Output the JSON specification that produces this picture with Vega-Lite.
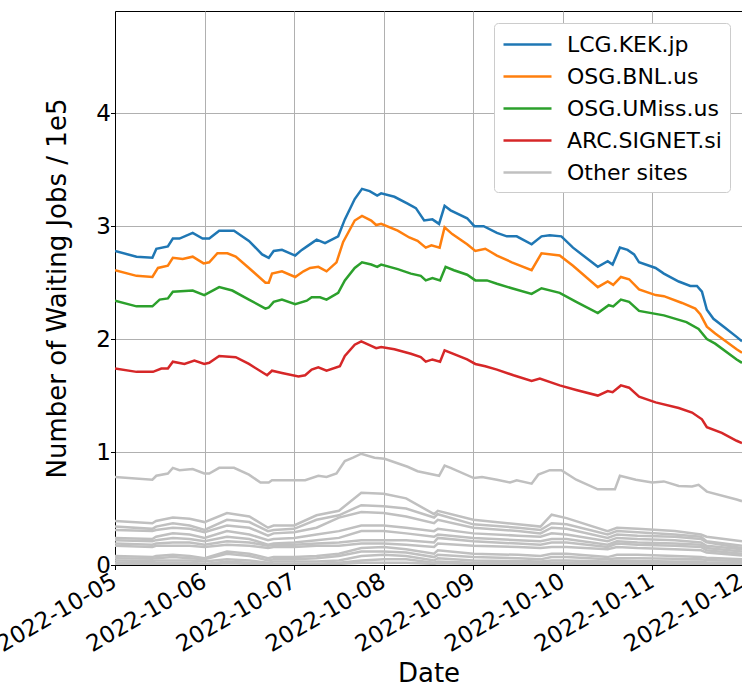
{
"$schema": "https://vega.github.io/schema/vega-lite/v6.json",
"width": 627, "height": 554,
"autosize": {"type": "none"},
"padding": {"left": 115, "top": 11, "right": 0, "bottom": 121},
"background": "white",
"config": {
  "font": "DejaVu Sans",
  "view": {"stroke": "black", "strokeWidth": 1},
  "axis": {"labelFont": "DejaVu Sans", "titleFont": "DejaVu Sans", "labelColor": "black", "titleColor": "black", "domainColor": "black", "tickColor": "black", "gridColor": "#b0b0b0", "gridWidth": 1, "labelFontSize": 23, "titleFontSize": 26, "titleFontWeight": "normal", "tickSize": 4.5, "domainWidth": 1, "labelFlush": false, "labelOverlap": false}
},
"datasets": {
"main": [
{"date":"2022-10-05T00:00","jobs":2.78,"site":"LCG.KEK.jp"},{"date":"2022-10-05T05:46","jobs":2.73,"site":"LCG.KEK.jp"},{"date":"2022-10-05T10:01","jobs":2.72,"site":"LCG.KEK.jp"},{"date":"2022-10-05T11:05","jobs":2.80,"site":"LCG.KEK.jp"},{"date":"2022-10-05T14:10","jobs":2.82,"site":"LCG.KEK.jp"},{"date":"2022-10-05T15:30","jobs":2.89,"site":"LCG.KEK.jp"},{"date":"2022-10-05T17:17","jobs":2.89,"site":"LCG.KEK.jp"},{"date":"2022-10-05T20:49","jobs":2.94,"site":"LCG.KEK.jp"},{"date":"2022-10-05T23:28","jobs":2.89,"site":"LCG.KEK.jp"},{"date":"2022-10-06T01:15","jobs":2.89,"site":"LCG.KEK.jp"},{"date":"2022-10-06T03:55","jobs":2.96,"site":"LCG.KEK.jp"},{"date":"2022-10-06T07:53","jobs":2.96,"site":"LCG.KEK.jp"},{"date":"2022-10-06T11:53","jobs":2.87,"site":"LCG.KEK.jp"},{"date":"2022-10-06T15:25","jobs":2.75,"site":"LCG.KEK.jp"},{"date":"2022-10-06T17:12","jobs":2.72,"site":"LCG.KEK.jp"},{"date":"2022-10-06T18:31","jobs":2.78,"site":"LCG.KEK.jp"},{"date":"2022-10-06T20:44","jobs":2.79,"site":"LCG.KEK.jp"},{"date":"2022-10-07T00:17","jobs":2.74,"site":"LCG.KEK.jp"},{"date":"2022-10-07T02:03","jobs":2.79,"site":"LCG.KEK.jp"},{"date":"2022-10-07T03:50","jobs":2.83,"site":"LCG.KEK.jp"},{"date":"2022-10-07T06:02","jobs":2.88,"site":"LCG.KEK.jp"},{"date":"2022-10-07T08:16","jobs":2.85,"site":"LCG.KEK.jp"},{"date":"2022-10-07T11:48","jobs":2.91,"site":"LCG.KEK.jp"},{"date":"2022-10-07T13:35","jobs":3.06,"site":"LCG.KEK.jp"},{"date":"2022-10-07T16:14","jobs":3.24,"site":"LCG.KEK.jp"},{"date":"2022-10-07T18:11","jobs":3.33,"site":"LCG.KEK.jp"},{"date":"2022-10-07T20:14","jobs":3.31,"site":"LCG.KEK.jp"},{"date":"2022-10-07T22:15","jobs":3.27,"site":"LCG.KEK.jp"},{"date":"2022-10-07T23:19","jobs":3.29,"site":"LCG.KEK.jp"},{"date":"2022-10-08T02:52","jobs":3.26,"site":"LCG.KEK.jp"},{"date":"2022-10-08T06:24","jobs":3.20,"site":"LCG.KEK.jp"},{"date":"2022-10-08T08:37","jobs":3.16,"site":"LCG.KEK.jp"},{"date":"2022-10-08T10:50","jobs":3.05,"site":"LCG.KEK.jp"},{"date":"2022-10-08T13:03","jobs":3.06,"site":"LCG.KEK.jp"},{"date":"2022-10-08T14:50","jobs":3.02,"site":"LCG.KEK.jp"},{"date":"2022-10-08T16:19","jobs":3.18,"site":"LCG.KEK.jp"},{"date":"2022-10-08T17:55","jobs":3.14,"site":"LCG.KEK.jp"},{"date":"2022-10-08T22:21","jobs":3.07,"site":"LCG.KEK.jp"},{"date":"2022-10-09T00:17","jobs":3.00,"site":"LCG.KEK.jp"},{"date":"2022-10-09T02:47","jobs":3.00,"site":"LCG.KEK.jp"},{"date":"2022-10-09T06:20","jobs":2.94,"site":"LCG.KEK.jp"},{"date":"2022-10-09T08:59","jobs":2.91,"site":"LCG.KEK.jp"},{"date":"2022-10-09T11:38","jobs":2.91,"site":"LCG.KEK.jp"},{"date":"2022-10-09T15:38","jobs":2.84,"site":"LCG.KEK.jp"},{"date":"2022-10-09T18:17","jobs":2.91,"site":"LCG.KEK.jp"},{"date":"2022-10-09T20:29","jobs":2.92,"site":"LCG.KEK.jp"},{"date":"2022-10-09T23:36","jobs":2.91,"site":"LCG.KEK.jp"},{"date":"2022-10-10T02:43","jobs":2.81,"site":"LCG.KEK.jp"},{"date":"2022-10-10T09:22","jobs":2.64,"site":"LCG.KEK.jp"},{"date":"2022-10-10T12:01","jobs":2.69,"site":"LCG.KEK.jp"},{"date":"2022-10-10T13:20","jobs":2.66,"site":"LCG.KEK.jp"},{"date":"2022-10-10T15:17","jobs":2.81,"site":"LCG.KEK.jp"},{"date":"2022-10-10T17:20","jobs":2.79,"site":"LCG.KEK.jp"},{"date":"2022-10-10T19:05","jobs":2.75,"site":"LCG.KEK.jp"},{"date":"2022-10-10T20:25","jobs":2.68,"site":"LCG.KEK.jp"},{"date":"2022-10-11T00:51","jobs":2.63,"site":"LCG.KEK.jp"},{"date":"2022-10-11T03:04","jobs":2.58,"site":"LCG.KEK.jp"},{"date":"2022-10-11T07:03","jobs":2.51,"site":"LCG.KEK.jp"},{"date":"2022-10-11T10:09","jobs":2.47,"site":"LCG.KEK.jp"},{"date":"2022-10-11T11:56","jobs":2.47,"site":"LCG.KEK.jp"},{"date":"2022-10-11T13:16","jobs":2.42,"site":"LCG.KEK.jp"},{"date":"2022-10-11T14:35","jobs":2.26,"site":"LCG.KEK.jp"},{"date":"2022-10-11T16:21","jobs":2.18,"site":"LCG.KEK.jp"},{"date":"2022-10-11T19:27","jobs":2.10,"site":"LCG.KEK.jp"},{"date":"2022-10-11T22:34","jobs":2.02,"site":"LCG.KEK.jp"},{"date":"2022-10-12T00:00","jobs":1.98,"site":"LCG.KEK.jp"},
{"date":"2022-10-05T00:00","jobs":2.61,"site":"OSG.BNL.us"},{"date":"2022-10-05T05:46","jobs":2.56,"site":"OSG.BNL.us"},{"date":"2022-10-05T10:01","jobs":2.55,"site":"OSG.BNL.us"},{"date":"2022-10-05T11:31","jobs":2.63,"site":"OSG.BNL.us"},{"date":"2022-10-05T14:10","jobs":2.65,"site":"OSG.BNL.us"},{"date":"2022-10-05T15:30","jobs":2.72,"site":"OSG.BNL.us"},{"date":"2022-10-05T18:09","jobs":2.71,"site":"OSG.BNL.us"},{"date":"2022-10-05T20:49","jobs":2.73,"site":"OSG.BNL.us"},{"date":"2022-10-05T23:44","jobs":2.67,"site":"OSG.BNL.us"},{"date":"2022-10-06T01:15","jobs":2.68,"site":"OSG.BNL.us"},{"date":"2022-10-06T03:27","jobs":2.76,"site":"OSG.BNL.us"},{"date":"2022-10-06T06:07","jobs":2.76,"site":"OSG.BNL.us"},{"date":"2022-10-06T08:21","jobs":2.73,"site":"OSG.BNL.us"},{"date":"2022-10-06T11:53","jobs":2.63,"site":"OSG.BNL.us"},{"date":"2022-10-06T16:19","jobs":2.50,"site":"OSG.BNL.us"},{"date":"2022-10-06T17:12","jobs":2.50,"site":"OSG.BNL.us"},{"date":"2022-10-06T18:04","jobs":2.58,"site":"OSG.BNL.us"},{"date":"2022-10-06T20:44","jobs":2.60,"site":"OSG.BNL.us"},{"date":"2022-10-07T00:17","jobs":2.55,"site":"OSG.BNL.us"},{"date":"2022-10-07T02:30","jobs":2.60,"site":"OSG.BNL.us"},{"date":"2022-10-07T04:17","jobs":2.63,"site":"OSG.BNL.us"},{"date":"2022-10-07T06:29","jobs":2.64,"site":"OSG.BNL.us"},{"date":"2022-10-07T08:41","jobs":2.60,"site":"OSG.BNL.us"},{"date":"2022-10-07T11:21","jobs":2.68,"site":"OSG.BNL.us"},{"date":"2022-10-07T13:08","jobs":2.86,"site":"OSG.BNL.us"},{"date":"2022-10-07T16:14","jobs":3.05,"site":"OSG.BNL.us"},{"date":"2022-10-07T18:11","jobs":3.09,"site":"OSG.BNL.us"},{"date":"2022-10-07T20:39","jobs":3.05,"site":"OSG.BNL.us"},{"date":"2022-10-07T21:59","jobs":3.01,"site":"OSG.BNL.us"},{"date":"2022-10-07T23:19","jobs":3.02,"site":"OSG.BNL.us"},{"date":"2022-10-08T03:45","jobs":2.96,"site":"OSG.BNL.us"},{"date":"2022-10-08T06:51","jobs":2.90,"site":"OSG.BNL.us"},{"date":"2022-10-08T09:04","jobs":2.87,"site":"OSG.BNL.us"},{"date":"2022-10-08T11:16","jobs":2.81,"site":"OSG.BNL.us"},{"date":"2022-10-08T12:47","jobs":2.83,"site":"OSG.BNL.us"},{"date":"2022-10-08T14:59","jobs":2.81,"site":"OSG.BNL.us"},{"date":"2022-10-08T16:19","jobs":2.99,"site":"OSG.BNL.us"},{"date":"2022-10-08T18:22","jobs":2.93,"site":"OSG.BNL.us"},{"date":"2022-10-08T22:21","jobs":2.84,"site":"OSG.BNL.us"},{"date":"2022-10-09T00:33","jobs":2.78,"site":"OSG.BNL.us"},{"date":"2022-10-09T03:13","jobs":2.80,"site":"OSG.BNL.us"},{"date":"2022-10-09T06:20","jobs":2.74,"site":"OSG.BNL.us"},{"date":"2022-10-09T10:19","jobs":2.68,"site":"OSG.BNL.us"},{"date":"2022-10-09T15:38","jobs":2.61,"site":"OSG.BNL.us"},{"date":"2022-10-09T18:17","jobs":2.76,"site":"OSG.BNL.us"},{"date":"2022-10-09T23:09","jobs":2.74,"site":"OSG.BNL.us"},{"date":"2022-10-10T02:43","jobs":2.65,"site":"OSG.BNL.us"},{"date":"2022-10-10T09:22","jobs":2.46,"site":"OSG.BNL.us"},{"date":"2022-10-10T12:01","jobs":2.51,"site":"OSG.BNL.us"},{"date":"2022-10-10T13:30","jobs":2.48,"site":"OSG.BNL.us"},{"date":"2022-10-10T15:33","jobs":2.55,"site":"OSG.BNL.us"},{"date":"2022-10-10T17:45","jobs":2.53,"site":"OSG.BNL.us"},{"date":"2022-10-10T20:25","jobs":2.44,"site":"OSG.BNL.us"},{"date":"2022-10-11T00:51","jobs":2.39,"site":"OSG.BNL.us"},{"date":"2022-10-11T03:04","jobs":2.38,"site":"OSG.BNL.us"},{"date":"2022-10-11T07:57","jobs":2.32,"site":"OSG.BNL.us"},{"date":"2022-10-11T11:29","jobs":2.27,"site":"OSG.BNL.us"},{"date":"2022-10-11T12:49","jobs":2.22,"site":"OSG.BNL.us"},{"date":"2022-10-11T14:35","jobs":2.11,"site":"OSG.BNL.us"},{"date":"2022-10-11T16:49","jobs":2.05,"site":"OSG.BNL.us"},{"date":"2022-10-11T22:34","jobs":1.91,"site":"OSG.BNL.us"},{"date":"2022-10-12T00:00","jobs":1.88,"site":"OSG.BNL.us"},
{"date":"2022-10-05T00:00","jobs":2.34,"site":"OSG.UMiss.us"},{"date":"2022-10-05T05:46","jobs":2.29,"site":"OSG.UMiss.us"},{"date":"2022-10-05T10:01","jobs":2.29,"site":"OSG.UMiss.us"},{"date":"2022-10-05T11:58","jobs":2.35,"site":"OSG.UMiss.us"},{"date":"2022-10-05T14:10","jobs":2.36,"site":"OSG.UMiss.us"},{"date":"2022-10-05T15:30","jobs":2.42,"site":"OSG.UMiss.us"},{"date":"2022-10-05T20:49","jobs":2.43,"site":"OSG.UMiss.us"},{"date":"2022-10-05T23:55","jobs":2.39,"site":"OSG.UMiss.us"},{"date":"2022-10-06T03:55","jobs":2.46,"site":"OSG.UMiss.us"},{"date":"2022-10-06T07:26","jobs":2.43,"site":"OSG.UMiss.us"},{"date":"2022-10-06T11:53","jobs":2.35,"site":"OSG.UMiss.us"},{"date":"2022-10-06T16:19","jobs":2.27,"site":"OSG.UMiss.us"},{"date":"2022-10-06T17:12","jobs":2.28,"site":"OSG.UMiss.us"},{"date":"2022-10-06T18:31","jobs":2.33,"site":"OSG.UMiss.us"},{"date":"2022-10-06T20:44","jobs":2.35,"site":"OSG.UMiss.us"},{"date":"2022-10-07T00:17","jobs":2.31,"site":"OSG.UMiss.us"},{"date":"2022-10-07T03:23","jobs":2.34,"site":"OSG.UMiss.us"},{"date":"2022-10-07T04:42","jobs":2.37,"site":"OSG.UMiss.us"},{"date":"2022-10-07T06:56","jobs":2.37,"site":"OSG.UMiss.us"},{"date":"2022-10-07T08:41","jobs":2.35,"site":"OSG.UMiss.us"},{"date":"2022-10-07T11:48","jobs":2.41,"site":"OSG.UMiss.us"},{"date":"2022-10-07T13:35","jobs":2.52,"site":"OSG.UMiss.us"},{"date":"2022-10-07T16:14","jobs":2.63,"site":"OSG.UMiss.us"},{"date":"2022-10-07T18:11","jobs":2.68,"site":"OSG.UMiss.us"},{"date":"2022-10-07T20:39","jobs":2.66,"site":"OSG.UMiss.us"},{"date":"2022-10-07T22:15","jobs":2.64,"site":"OSG.UMiss.us"},{"date":"2022-10-07T23:19","jobs":2.66,"site":"OSG.UMiss.us"},{"date":"2022-10-08T03:45","jobs":2.62,"site":"OSG.UMiss.us"},{"date":"2022-10-08T07:17","jobs":2.58,"site":"OSG.UMiss.us"},{"date":"2022-10-08T09:56","jobs":2.56,"site":"OSG.UMiss.us"},{"date":"2022-10-08T11:16","jobs":2.52,"site":"OSG.UMiss.us"},{"date":"2022-10-08T13:03","jobs":2.54,"site":"OSG.UMiss.us"},{"date":"2022-10-08T15:06","jobs":2.52,"site":"OSG.UMiss.us"},{"date":"2022-10-08T16:35","jobs":2.64,"site":"OSG.UMiss.us"},{"date":"2022-10-08T18:49","jobs":2.61,"site":"OSG.UMiss.us"},{"date":"2022-10-08T22:21","jobs":2.57,"site":"OSG.UMiss.us"},{"date":"2022-10-09T00:33","jobs":2.52,"site":"OSG.UMiss.us"},{"date":"2022-10-09T03:40","jobs":2.52,"site":"OSG.UMiss.us"},{"date":"2022-10-09T06:20","jobs":2.49,"site":"OSG.UMiss.us"},{"date":"2022-10-09T10:19","jobs":2.45,"site":"OSG.UMiss.us"},{"date":"2022-10-09T15:38","jobs":2.40,"site":"OSG.UMiss.us"},{"date":"2022-10-09T18:17","jobs":2.45,"site":"OSG.UMiss.us"},{"date":"2022-10-09T23:09","jobs":2.41,"site":"OSG.UMiss.us"},{"date":"2022-10-10T03:35","jobs":2.33,"site":"OSG.UMiss.us"},{"date":"2022-10-10T09:22","jobs":2.23,"site":"OSG.UMiss.us"},{"date":"2022-10-10T12:17","jobs":2.30,"site":"OSG.UMiss.us"},{"date":"2022-10-10T13:30","jobs":2.29,"site":"OSG.UMiss.us"},{"date":"2022-10-10T15:33","jobs":2.35,"site":"OSG.UMiss.us"},{"date":"2022-10-10T17:45","jobs":2.33,"site":"OSG.UMiss.us"},{"date":"2022-10-10T20:25","jobs":2.25,"site":"OSG.UMiss.us"},{"date":"2022-10-11T03:04","jobs":2.21,"site":"OSG.UMiss.us"},{"date":"2022-10-11T09:07","jobs":2.15,"site":"OSG.UMiss.us"},{"date":"2022-10-11T12:22","jobs":2.09,"site":"OSG.UMiss.us"},{"date":"2022-10-11T14:35","jobs":2.00,"site":"OSG.UMiss.us"},{"date":"2022-10-11T16:49","jobs":1.96,"site":"OSG.UMiss.us"},{"date":"2022-10-11T22:34","jobs":1.82,"site":"OSG.UMiss.us"},{"date":"2022-10-12T00:00","jobs":1.79,"site":"OSG.UMiss.us"},
{"date":"2022-10-05T00:00","jobs":1.74,"site":"ARC.SIGNET.si"},{"date":"2022-10-05T05:46","jobs":1.71,"site":"ARC.SIGNET.si"},{"date":"2022-10-05T10:11","jobs":1.71,"site":"ARC.SIGNET.si"},{"date":"2022-10-05T12:25","jobs":1.74,"site":"ARC.SIGNET.si"},{"date":"2022-10-05T14:10","jobs":1.74,"site":"ARC.SIGNET.si"},{"date":"2022-10-05T15:30","jobs":1.80,"site":"ARC.SIGNET.si"},{"date":"2022-10-05T18:36","jobs":1.78,"site":"ARC.SIGNET.si"},{"date":"2022-10-05T21:16","jobs":1.81,"site":"ARC.SIGNET.si"},{"date":"2022-10-05T23:55","jobs":1.78,"site":"ARC.SIGNET.si"},{"date":"2022-10-06T01:15","jobs":1.79,"site":"ARC.SIGNET.si"},{"date":"2022-10-06T03:55","jobs":1.85,"site":"ARC.SIGNET.si"},{"date":"2022-10-06T08:21","jobs":1.84,"site":"ARC.SIGNET.si"},{"date":"2022-10-06T11:53","jobs":1.78,"site":"ARC.SIGNET.si"},{"date":"2022-10-06T16:45","jobs":1.68,"site":"ARC.SIGNET.si"},{"date":"2022-10-06T18:04","jobs":1.72,"site":"ARC.SIGNET.si"},{"date":"2022-10-06T20:44","jobs":1.70,"site":"ARC.SIGNET.si"},{"date":"2022-10-07T01:10","jobs":1.67,"site":"ARC.SIGNET.si"},{"date":"2022-10-07T02:57","jobs":1.68,"site":"ARC.SIGNET.si"},{"date":"2022-10-07T04:42","jobs":1.73,"site":"ARC.SIGNET.si"},{"date":"2022-10-07T06:29","jobs":1.75,"site":"ARC.SIGNET.si"},{"date":"2022-10-07T08:41","jobs":1.72,"site":"ARC.SIGNET.si"},{"date":"2022-10-07T12:15","jobs":1.76,"site":"ARC.SIGNET.si"},{"date":"2022-10-07T13:35","jobs":1.85,"site":"ARC.SIGNET.si"},{"date":"2022-10-07T16:14","jobs":1.95,"site":"ARC.SIGNET.si"},{"date":"2022-10-07T17:59","jobs":1.98,"site":"ARC.SIGNET.si"},{"date":"2022-10-07T20:39","jobs":1.94,"site":"ARC.SIGNET.si"},{"date":"2022-10-07T21:59","jobs":1.92,"site":"ARC.SIGNET.si"},{"date":"2022-10-07T23:19","jobs":1.93,"site":"ARC.SIGNET.si"},{"date":"2022-10-08T02:52","jobs":1.91,"site":"ARC.SIGNET.si"},{"date":"2022-10-08T07:17","jobs":1.87,"site":"ARC.SIGNET.si"},{"date":"2022-10-08T09:56","jobs":1.84,"site":"ARC.SIGNET.si"},{"date":"2022-10-08T11:16","jobs":1.80,"site":"ARC.SIGNET.si"},{"date":"2022-10-08T13:03","jobs":1.82,"site":"ARC.SIGNET.si"},{"date":"2022-10-08T15:06","jobs":1.80,"site":"ARC.SIGNET.si"},{"date":"2022-10-08T16:19","jobs":1.90,"site":"ARC.SIGNET.si"},{"date":"2022-10-08T22:21","jobs":1.82,"site":"ARC.SIGNET.si"},{"date":"2022-10-09T00:33","jobs":1.78,"site":"ARC.SIGNET.si"},{"date":"2022-10-09T03:13","jobs":1.76,"site":"ARC.SIGNET.si"},{"date":"2022-10-09T06:20","jobs":1.73,"site":"ARC.SIGNET.si"},{"date":"2022-10-09T10:46","jobs":1.68,"site":"ARC.SIGNET.si"},{"date":"2022-10-09T15:38","jobs":1.63,"site":"ARC.SIGNET.si"},{"date":"2022-10-09T17:50","jobs":1.65,"site":"ARC.SIGNET.si"},{"date":"2022-10-09T23:09","jobs":1.59,"site":"ARC.SIGNET.si"},{"date":"2022-10-10T03:35","jobs":1.55,"site":"ARC.SIGNET.si"},{"date":"2022-10-10T09:22","jobs":1.50,"site":"ARC.SIGNET.si"},{"date":"2022-10-10T12:01","jobs":1.54,"site":"ARC.SIGNET.si"},{"date":"2022-10-10T13:20","jobs":1.53,"site":"ARC.SIGNET.si"},{"date":"2022-10-10T15:33","jobs":1.59,"site":"ARC.SIGNET.si"},{"date":"2022-10-10T17:45","jobs":1.57,"site":"ARC.SIGNET.si"},{"date":"2022-10-10T20:25","jobs":1.49,"site":"ARC.SIGNET.si"},{"date":"2022-10-11T00:51","jobs":1.44,"site":"ARC.SIGNET.si"},{"date":"2022-10-11T07:03","jobs":1.39,"site":"ARC.SIGNET.si"},{"date":"2022-10-11T10:37","jobs":1.35,"site":"ARC.SIGNET.si"},{"date":"2022-10-11T13:16","jobs":1.29,"site":"ARC.SIGNET.si"},{"date":"2022-10-11T14:35","jobs":1.22,"site":"ARC.SIGNET.si"},{"date":"2022-10-11T18:35","jobs":1.17,"site":"ARC.SIGNET.si"},{"date":"2022-10-11T22:34","jobs":1.10,"site":"ARC.SIGNET.si"},{"date":"2022-10-12T00:00","jobs":1.08,"site":"ARC.SIGNET.si"}
],
"others": [
{"date":"2022-10-05T00:00","jobs":0.78,"site":"Other 01"},{"date":"2022-10-05T10:01","jobs":0.755,"site":"Other 01"},{"date":"2022-10-05T11:05","jobs":0.79,"site":"Other 01"},{"date":"2022-10-05T14:10","jobs":0.81,"site":"Other 01"},{"date":"2022-10-05T15:30","jobs":0.86,"site":"Other 01"},{"date":"2022-10-05T17:17","jobs":0.84,"site":"Other 01"},{"date":"2022-10-05T20:49","jobs":0.85,"site":"Other 01"},{"date":"2022-10-05T23:55","jobs":0.81,"site":"Other 01"},{"date":"2022-10-06T01:15","jobs":0.81,"site":"Other 01"},{"date":"2022-10-06T03:55","jobs":0.86,"site":"Other 01"},{"date":"2022-10-06T07:53","jobs":0.86,"site":"Other 01"},{"date":"2022-10-06T11:53","jobs":0.80,"site":"Other 01"},{"date":"2022-10-06T14:59","jobs":0.73,"site":"Other 01"},{"date":"2022-10-06T17:12","jobs":0.73,"site":"Other 01"},{"date":"2022-10-06T18:04","jobs":0.75,"site":"Other 01"},{"date":"2022-10-07T00:17","jobs":0.75,"site":"Other 01"},{"date":"2022-10-07T02:57","jobs":0.75,"site":"Other 01"},{"date":"2022-10-07T06:29","jobs":0.79,"site":"Other 01"},{"date":"2022-10-07T08:41","jobs":0.78,"site":"Other 01"},{"date":"2022-10-07T11:21","jobs":0.81,"site":"Other 01"},{"date":"2022-10-07T13:35","jobs":0.92,"site":"Other 01"},{"date":"2022-10-07T15:47","jobs":0.95,"site":"Other 01"},{"date":"2022-10-07T17:59","jobs":0.985,"site":"Other 01"},{"date":"2022-10-07T21:33","jobs":0.95,"site":"Other 01"},{"date":"2022-10-08T00:13","jobs":0.94,"site":"Other 01"},{"date":"2022-10-08T06:24","jobs":0.87,"site":"Other 01"},{"date":"2022-10-08T09:04","jobs":0.83,"site":"Other 01"},{"date":"2022-10-08T14:50","jobs":0.79,"site":"Other 01"},{"date":"2022-10-08T16:19","jobs":0.88,"site":"Other 01"},{"date":"2022-10-08T17:55","jobs":0.86,"site":"Other 01"},{"date":"2022-10-09T00:08","jobs":0.77,"site":"Other 01"},{"date":"2022-10-09T02:20","jobs":0.78,"site":"Other 01"},{"date":"2022-10-09T06:20","jobs":0.755,"site":"Other 01"},{"date":"2022-10-09T09:52","jobs":0.73,"site":"Other 01"},{"date":"2022-10-09T11:38","jobs":0.75,"site":"Other 01"},{"date":"2022-10-09T15:38","jobs":0.72,"site":"Other 01"},{"date":"2022-10-09T17:25","jobs":0.80,"site":"Other 01"},{"date":"2022-10-09T20:29","jobs":0.84,"site":"Other 01"},{"date":"2022-10-09T23:36","jobs":0.84,"site":"Other 01"},{"date":"2022-10-10T03:35","jobs":0.755,"site":"Other 01"},{"date":"2022-10-10T09:22","jobs":0.67,"site":"Other 01"},{"date":"2022-10-10T12:26","jobs":0.67,"site":"Other 01"},{"date":"2022-10-10T13:57","jobs":0.67,"site":"Other 01"},{"date":"2022-10-10T15:17","jobs":0.79,"site":"Other 01"},{"date":"2022-10-10T19:32","jobs":0.755,"site":"Other 01"},{"date":"2022-10-10T23:58","jobs":0.73,"site":"Other 01"},{"date":"2022-10-11T03:04","jobs":0.74,"site":"Other 01"},{"date":"2022-10-11T07:03","jobs":0.70,"site":"Other 01"},{"date":"2022-10-11T10:37","jobs":0.695,"site":"Other 01"},{"date":"2022-10-11T12:22","jobs":0.71,"site":"Other 01"},{"date":"2022-10-11T14:35","jobs":0.65,"site":"Other 01"},{"date":"2022-10-11T22:34","jobs":0.58,"site":"Other 01"},{"date":"2022-10-12T00:00","jobs":0.565,"site":"Other 01"},
{"date":"2022-10-05T00:00","jobs":0.39,"site":"Other 02"},{"date":"2022-10-05T10:00","jobs":0.37,"site":"Other 02"},{"date":"2022-10-05T11:00","jobs":0.39,"site":"Other 02"},{"date":"2022-10-05T15:30","jobs":0.42,"site":"Other 02"},{"date":"2022-10-05T20:00","jobs":0.41,"site":"Other 02"},{"date":"2022-10-06T00:00","jobs":0.38,"site":"Other 02"},{"date":"2022-10-06T06:00","jobs":0.46,"site":"Other 02"},{"date":"2022-10-06T12:00","jobs":0.43,"site":"Other 02"},{"date":"2022-10-06T17:00","jobs":0.33,"site":"Other 02"},{"date":"2022-10-06T18:30","jobs":0.35,"site":"Other 02"},{"date":"2022-10-07T00:00","jobs":0.35,"site":"Other 02"},{"date":"2022-10-07T06:00","jobs":0.44,"site":"Other 02"},{"date":"2022-10-07T12:00","jobs":0.48,"site":"Other 02"},{"date":"2022-10-07T18:00","jobs":0.64,"site":"Other 02"},{"date":"2022-10-08T00:00","jobs":0.63,"site":"Other 02"},{"date":"2022-10-08T06:00","jobs":0.59,"site":"Other 02"},{"date":"2022-10-08T13:30","jobs":0.45,"site":"Other 02"},{"date":"2022-10-08T14:30","jobs":0.48,"site":"Other 02"},{"date":"2022-10-09T00:00","jobs":0.40,"site":"Other 02"},{"date":"2022-10-09T12:00","jobs":0.36,"site":"Other 02"},{"date":"2022-10-09T18:00","jobs":0.34,"site":"Other 02"},{"date":"2022-10-09T21:00","jobs":0.445,"site":"Other 02"},{"date":"2022-10-10T01:00","jobs":0.415,"site":"Other 02"},{"date":"2022-10-10T12:00","jobs":0.30,"site":"Other 02"},{"date":"2022-10-10T14:30","jobs":0.33,"site":"Other 02"},{"date":"2022-10-10T20:00","jobs":0.32,"site":"Other 02"},{"date":"2022-10-11T06:00","jobs":0.30,"site":"Other 02"},{"date":"2022-10-11T13:00","jobs":0.27,"site":"Other 02"},{"date":"2022-10-11T14:30","jobs":0.25,"site":"Other 02"},{"date":"2022-10-12T00:00","jobs":0.21,"site":"Other 02"},
{"date":"2022-10-05T00:00","jobs":0.34,"site":"Other 03"},{"date":"2022-10-05T10:00","jobs":0.32,"site":"Other 03"},{"date":"2022-10-05T11:00","jobs":0.34,"site":"Other 03"},{"date":"2022-10-05T15:30","jobs":0.37,"site":"Other 03"},{"date":"2022-10-05T20:00","jobs":0.35,"site":"Other 03"},{"date":"2022-10-06T00:00","jobs":0.31,"site":"Other 03"},{"date":"2022-10-06T06:00","jobs":0.40,"site":"Other 03"},{"date":"2022-10-06T12:00","jobs":0.38,"site":"Other 03"},{"date":"2022-10-06T17:00","jobs":0.30,"site":"Other 03"},{"date":"2022-10-06T18:30","jobs":0.31,"site":"Other 03"},{"date":"2022-10-07T00:00","jobs":0.32,"site":"Other 03"},{"date":"2022-10-07T06:00","jobs":0.40,"site":"Other 03"},{"date":"2022-10-07T12:00","jobs":0.44,"site":"Other 03"},{"date":"2022-10-07T18:00","jobs":0.53,"site":"Other 03"},{"date":"2022-10-08T00:00","jobs":0.52,"site":"Other 03"},{"date":"2022-10-08T06:00","jobs":0.50,"site":"Other 03"},{"date":"2022-10-08T13:30","jobs":0.42,"site":"Other 03"},{"date":"2022-10-08T14:30","jobs":0.45,"site":"Other 03"},{"date":"2022-10-09T00:00","jobs":0.36,"site":"Other 03"},{"date":"2022-10-09T12:00","jobs":0.33,"site":"Other 03"},{"date":"2022-10-09T18:00","jobs":0.31,"site":"Other 03"},{"date":"2022-10-09T21:00","jobs":0.37,"site":"Other 03"},{"date":"2022-10-10T01:00","jobs":0.36,"site":"Other 03"},{"date":"2022-10-10T12:00","jobs":0.27,"site":"Other 03"},{"date":"2022-10-10T14:30","jobs":0.30,"site":"Other 03"},{"date":"2022-10-10T20:00","jobs":0.29,"site":"Other 03"},{"date":"2022-10-11T06:00","jobs":0.27,"site":"Other 03"},{"date":"2022-10-11T13:00","jobs":0.25,"site":"Other 03"},{"date":"2022-10-11T14:30","jobs":0.21,"site":"Other 03"},{"date":"2022-10-12T00:00","jobs":0.17,"site":"Other 03"},
{"date":"2022-10-05T00:00","jobs":0.31,"site":"Other 04"},{"date":"2022-10-05T10:00","jobs":0.30,"site":"Other 04"},{"date":"2022-10-05T11:00","jobs":0.31,"site":"Other 04"},{"date":"2022-10-05T15:30","jobs":0.33,"site":"Other 04"},{"date":"2022-10-05T20:00","jobs":0.32,"site":"Other 04"},{"date":"2022-10-06T00:00","jobs":0.29,"site":"Other 04"},{"date":"2022-10-06T06:00","jobs":0.35,"site":"Other 04"},{"date":"2022-10-06T12:00","jobs":0.33,"site":"Other 04"},{"date":"2022-10-06T17:00","jobs":0.26,"site":"Other 04"},{"date":"2022-10-06T18:30","jobs":0.28,"site":"Other 04"},{"date":"2022-10-07T00:00","jobs":0.29,"site":"Other 04"},{"date":"2022-10-07T06:00","jobs":0.33,"site":"Other 04"},{"date":"2022-10-07T12:00","jobs":0.42,"site":"Other 04"},{"date":"2022-10-07T18:00","jobs":0.47,"site":"Other 04"},{"date":"2022-10-08T00:00","jobs":0.46,"site":"Other 04"},{"date":"2022-10-08T06:00","jobs":0.43,"site":"Other 04"},{"date":"2022-10-08T13:30","jobs":0.37,"site":"Other 04"},{"date":"2022-10-08T14:30","jobs":0.40,"site":"Other 04"},{"date":"2022-10-09T00:00","jobs":0.33,"site":"Other 04"},{"date":"2022-10-09T12:00","jobs":0.30,"site":"Other 04"},{"date":"2022-10-09T18:00","jobs":0.28,"site":"Other 04"},{"date":"2022-10-09T21:00","jobs":0.33,"site":"Other 04"},{"date":"2022-10-10T01:00","jobs":0.32,"site":"Other 04"},{"date":"2022-10-10T12:00","jobs":0.24,"site":"Other 04"},{"date":"2022-10-10T14:30","jobs":0.27,"site":"Other 04"},{"date":"2022-10-10T20:00","jobs":0.26,"site":"Other 04"},{"date":"2022-10-11T06:00","jobs":0.25,"site":"Other 04"},{"date":"2022-10-11T13:00","jobs":0.23,"site":"Other 04"},{"date":"2022-10-11T14:30","jobs":0.20,"site":"Other 04"},{"date":"2022-10-12T00:00","jobs":0.15,"site":"Other 04"},
{"date":"2022-10-05T00:00","jobs":0.24,"site":"Other 05"},{"date":"2022-10-05T10:00","jobs":0.23,"site":"Other 05"},{"date":"2022-10-05T11:00","jobs":0.25,"site":"Other 05"},{"date":"2022-10-05T15:30","jobs":0.28,"site":"Other 05"},{"date":"2022-10-05T20:00","jobs":0.27,"site":"Other 05"},{"date":"2022-10-06T00:00","jobs":0.24,"site":"Other 05"},{"date":"2022-10-06T06:00","jobs":0.30,"site":"Other 05"},{"date":"2022-10-06T12:00","jobs":0.27,"site":"Other 05"},{"date":"2022-10-06T17:00","jobs":0.22,"site":"Other 05"},{"date":"2022-10-06T18:30","jobs":0.23,"site":"Other 05"},{"date":"2022-10-07T00:00","jobs":0.24,"site":"Other 05"},{"date":"2022-10-07T06:00","jobs":0.27,"site":"Other 05"},{"date":"2022-10-07T12:00","jobs":0.30,"site":"Other 05"},{"date":"2022-10-07T18:00","jobs":0.35,"site":"Other 05"},{"date":"2022-10-08T00:00","jobs":0.35,"site":"Other 05"},{"date":"2022-10-08T06:00","jobs":0.33,"site":"Other 05"},{"date":"2022-10-08T13:30","jobs":0.30,"site":"Other 05"},{"date":"2022-10-08T14:30","jobs":0.32,"site":"Other 05"},{"date":"2022-10-09T00:00","jobs":0.28,"site":"Other 05"},{"date":"2022-10-09T12:00","jobs":0.26,"site":"Other 05"},{"date":"2022-10-09T18:00","jobs":0.25,"site":"Other 05"},{"date":"2022-10-09T21:00","jobs":0.28,"site":"Other 05"},{"date":"2022-10-10T01:00","jobs":0.27,"site":"Other 05"},{"date":"2022-10-10T12:00","jobs":0.21,"site":"Other 05"},{"date":"2022-10-10T14:30","jobs":0.24,"site":"Other 05"},{"date":"2022-10-10T20:00","jobs":0.23,"site":"Other 05"},{"date":"2022-10-11T06:00","jobs":0.22,"site":"Other 05"},{"date":"2022-10-11T13:00","jobs":0.20,"site":"Other 05"},{"date":"2022-10-11T14:30","jobs":0.17,"site":"Other 05"},{"date":"2022-10-12T00:00","jobs":0.14,"site":"Other 05"},
{"date":"2022-10-05T00:00","jobs":0.22,"site":"Other 06"},{"date":"2022-10-05T10:00","jobs":0.21,"site":"Other 06"},{"date":"2022-10-05T11:00","jobs":0.22,"site":"Other 06"},{"date":"2022-10-05T15:30","jobs":0.24,"site":"Other 06"},{"date":"2022-10-05T20:00","jobs":0.23,"site":"Other 06"},{"date":"2022-10-06T00:00","jobs":0.21,"site":"Other 06"},{"date":"2022-10-06T06:00","jobs":0.25,"site":"Other 06"},{"date":"2022-10-06T12:00","jobs":0.23,"site":"Other 06"},{"date":"2022-10-06T17:00","jobs":0.18,"site":"Other 06"},{"date":"2022-10-06T18:30","jobs":0.19,"site":"Other 06"},{"date":"2022-10-07T00:00","jobs":0.20,"site":"Other 06"},{"date":"2022-10-07T06:00","jobs":0.22,"site":"Other 06"},{"date":"2022-10-07T12:00","jobs":0.24,"site":"Other 06"},{"date":"2022-10-07T18:00","jobs":0.30,"site":"Other 06"},{"date":"2022-10-08T00:00","jobs":0.30,"site":"Other 06"},{"date":"2022-10-08T06:00","jobs":0.28,"site":"Other 06"},{"date":"2022-10-08T13:30","jobs":0.25,"site":"Other 06"},{"date":"2022-10-08T14:30","jobs":0.27,"site":"Other 06"},{"date":"2022-10-09T00:00","jobs":0.24,"site":"Other 06"},{"date":"2022-10-09T12:00","jobs":0.22,"site":"Other 06"},{"date":"2022-10-09T18:00","jobs":0.21,"site":"Other 06"},{"date":"2022-10-09T21:00","jobs":0.23,"site":"Other 06"},{"date":"2022-10-10T01:00","jobs":0.23,"site":"Other 06"},{"date":"2022-10-10T12:00","jobs":0.18,"site":"Other 06"},{"date":"2022-10-10T14:30","jobs":0.21,"site":"Other 06"},{"date":"2022-10-10T20:00","jobs":0.20,"site":"Other 06"},{"date":"2022-10-11T06:00","jobs":0.19,"site":"Other 06"},{"date":"2022-10-11T13:00","jobs":0.18,"site":"Other 06"},{"date":"2022-10-11T14:30","jobs":0.15,"site":"Other 06"},{"date":"2022-10-12T00:00","jobs":0.12,"site":"Other 06"},
{"date":"2022-10-05T00:00","jobs":0.19,"site":"Other 07"},{"date":"2022-10-05T10:00","jobs":0.18,"site":"Other 07"},{"date":"2022-10-05T11:00","jobs":0.19,"site":"Other 07"},{"date":"2022-10-05T15:30","jobs":0.20,"site":"Other 07"},{"date":"2022-10-05T20:00","jobs":0.20,"site":"Other 07"},{"date":"2022-10-06T00:00","jobs":0.18,"site":"Other 07"},{"date":"2022-10-06T06:00","jobs":0.21,"site":"Other 07"},{"date":"2022-10-06T12:00","jobs":0.20,"site":"Other 07"},{"date":"2022-10-06T17:00","jobs":0.17,"site":"Other 07"},{"date":"2022-10-06T18:30","jobs":0.18,"site":"Other 07"},{"date":"2022-10-07T00:00","jobs":0.18,"site":"Other 07"},{"date":"2022-10-07T06:00","jobs":0.19,"site":"Other 07"},{"date":"2022-10-07T12:00","jobs":0.20,"site":"Other 07"},{"date":"2022-10-07T18:00","jobs":0.22,"site":"Other 07"},{"date":"2022-10-08T00:00","jobs":0.22,"site":"Other 07"},{"date":"2022-10-08T06:00","jobs":0.22,"site":"Other 07"},{"date":"2022-10-08T13:30","jobs":0.20,"site":"Other 07"},{"date":"2022-10-08T14:30","jobs":0.24,"site":"Other 07"},{"date":"2022-10-09T00:00","jobs":0.21,"site":"Other 07"},{"date":"2022-10-09T12:00","jobs":0.19,"site":"Other 07"},{"date":"2022-10-09T18:00","jobs":0.18,"site":"Other 07"},{"date":"2022-10-09T21:00","jobs":0.20,"site":"Other 07"},{"date":"2022-10-10T01:00","jobs":0.20,"site":"Other 07"},{"date":"2022-10-10T12:00","jobs":0.16,"site":"Other 07"},{"date":"2022-10-10T14:30","jobs":0.19,"site":"Other 07"},{"date":"2022-10-10T20:00","jobs":0.18,"site":"Other 07"},{"date":"2022-10-11T06:00","jobs":0.17,"site":"Other 07"},{"date":"2022-10-11T13:00","jobs":0.16,"site":"Other 07"},{"date":"2022-10-11T14:30","jobs":0.13,"site":"Other 07"},{"date":"2022-10-12T00:00","jobs":0.10,"site":"Other 07"},
{"date":"2022-10-05T00:00","jobs":0.17,"site":"Other 08"},{"date":"2022-10-05T10:00","jobs":0.16,"site":"Other 08"},{"date":"2022-10-05T11:00","jobs":0.17,"site":"Other 08"},{"date":"2022-10-05T15:30","jobs":0.17,"site":"Other 08"},{"date":"2022-10-05T20:00","jobs":0.17,"site":"Other 08"},{"date":"2022-10-06T00:00","jobs":0.16,"site":"Other 08"},{"date":"2022-10-06T06:00","jobs":0.18,"site":"Other 08"},{"date":"2022-10-06T12:00","jobs":0.17,"site":"Other 08"},{"date":"2022-10-06T17:00","jobs":0.15,"site":"Other 08"},{"date":"2022-10-06T18:30","jobs":0.16,"site":"Other 08"},{"date":"2022-10-07T00:00","jobs":0.16,"site":"Other 08"},{"date":"2022-10-07T06:00","jobs":0.17,"site":"Other 08"},{"date":"2022-10-07T12:00","jobs":0.17,"site":"Other 08"},{"date":"2022-10-07T18:00","jobs":0.19,"site":"Other 08"},{"date":"2022-10-08T00:00","jobs":0.19,"site":"Other 08"},{"date":"2022-10-08T06:00","jobs":0.18,"site":"Other 08"},{"date":"2022-10-08T13:30","jobs":0.16,"site":"Other 08"},{"date":"2022-10-08T14:30","jobs":0.19,"site":"Other 08"},{"date":"2022-10-09T00:00","jobs":0.17,"site":"Other 08"},{"date":"2022-10-09T12:00","jobs":0.16,"site":"Other 08"},{"date":"2022-10-09T18:00","jobs":0.15,"site":"Other 08"},{"date":"2022-10-09T21:00","jobs":0.16,"site":"Other 08"},{"date":"2022-10-10T01:00","jobs":0.16,"site":"Other 08"},{"date":"2022-10-10T12:00","jobs":0.14,"site":"Other 08"},{"date":"2022-10-10T14:30","jobs":0.16,"site":"Other 08"},{"date":"2022-10-10T20:00","jobs":0.15,"site":"Other 08"},{"date":"2022-10-11T06:00","jobs":0.14,"site":"Other 08"},{"date":"2022-10-11T13:00","jobs":0.13,"site":"Other 08"},{"date":"2022-10-11T14:30","jobs":0.11,"site":"Other 08"},{"date":"2022-10-12T00:00","jobs":0.085,"site":"Other 08"},
{"date":"2022-10-05T00:00","jobs":0.08,"site":"Other 09"},{"date":"2022-10-05T10:00","jobs":0.07,"site":"Other 09"},{"date":"2022-10-05T11:00","jobs":0.08,"site":"Other 09"},{"date":"2022-10-05T15:30","jobs":0.09,"site":"Other 09"},{"date":"2022-10-05T20:00","jobs":0.08,"site":"Other 09"},{"date":"2022-10-06T00:00","jobs":0.06,"site":"Other 09"},{"date":"2022-10-06T06:00","jobs":0.12,"site":"Other 09"},{"date":"2022-10-06T12:00","jobs":0.10,"site":"Other 09"},{"date":"2022-10-06T17:00","jobs":0.06,"site":"Other 09"},{"date":"2022-10-06T18:30","jobs":0.07,"site":"Other 09"},{"date":"2022-10-07T00:00","jobs":0.07,"site":"Other 09"},{"date":"2022-10-07T06:00","jobs":0.08,"site":"Other 09"},{"date":"2022-10-07T12:00","jobs":0.10,"site":"Other 09"},{"date":"2022-10-07T18:00","jobs":0.15,"site":"Other 09"},{"date":"2022-10-08T00:00","jobs":0.16,"site":"Other 09"},{"date":"2022-10-08T06:00","jobs":0.14,"site":"Other 09"},{"date":"2022-10-08T13:30","jobs":0.10,"site":"Other 09"},{"date":"2022-10-08T14:30","jobs":0.13,"site":"Other 09"},{"date":"2022-10-09T00:00","jobs":0.10,"site":"Other 09"},{"date":"2022-10-09T12:00","jobs":0.09,"site":"Other 09"},{"date":"2022-10-09T18:00","jobs":0.08,"site":"Other 09"},{"date":"2022-10-09T21:00","jobs":0.10,"site":"Other 09"},{"date":"2022-10-10T01:00","jobs":0.10,"site":"Other 09"},{"date":"2022-10-10T12:00","jobs":0.07,"site":"Other 09"},{"date":"2022-10-10T14:30","jobs":0.09,"site":"Other 09"},{"date":"2022-10-10T20:00","jobs":0.09,"site":"Other 09"},{"date":"2022-10-11T06:00","jobs":0.08,"site":"Other 09"},{"date":"2022-10-11T13:00","jobs":0.07,"site":"Other 09"},{"date":"2022-10-11T14:30","jobs":0.065,"site":"Other 09"},{"date":"2022-10-12T00:00","jobs":0.05,"site":"Other 09"},
{"date":"2022-10-05T00:00","jobs":0.06,"site":"Other 10"},{"date":"2022-10-05T10:00","jobs":0.055,"site":"Other 10"},{"date":"2022-10-05T11:00","jobs":0.06,"site":"Other 10"},{"date":"2022-10-05T15:30","jobs":0.07,"site":"Other 10"},{"date":"2022-10-05T20:00","jobs":0.06,"site":"Other 10"},{"date":"2022-10-06T00:00","jobs":0.05,"site":"Other 10"},{"date":"2022-10-06T06:00","jobs":0.10,"site":"Other 10"},{"date":"2022-10-06T12:00","jobs":0.08,"site":"Other 10"},{"date":"2022-10-06T17:00","jobs":0.04,"site":"Other 10"},{"date":"2022-10-06T18:30","jobs":0.05,"site":"Other 10"},{"date":"2022-10-07T00:00","jobs":0.05,"site":"Other 10"},{"date":"2022-10-07T06:00","jobs":0.06,"site":"Other 10"},{"date":"2022-10-07T12:00","jobs":0.08,"site":"Other 10"},{"date":"2022-10-07T18:00","jobs":0.12,"site":"Other 10"},{"date":"2022-10-08T00:00","jobs":0.12,"site":"Other 10"},{"date":"2022-10-08T06:00","jobs":0.11,"site":"Other 10"},{"date":"2022-10-08T13:30","jobs":0.07,"site":"Other 10"},{"date":"2022-10-08T14:30","jobs":0.09,"site":"Other 10"},{"date":"2022-10-09T00:00","jobs":0.07,"site":"Other 10"},{"date":"2022-10-09T12:00","jobs":0.06,"site":"Other 10"},{"date":"2022-10-09T18:00","jobs":0.05,"site":"Other 10"},{"date":"2022-10-09T21:00","jobs":0.07,"site":"Other 10"},{"date":"2022-10-10T01:00","jobs":0.07,"site":"Other 10"},{"date":"2022-10-10T12:00","jobs":0.05,"site":"Other 10"},{"date":"2022-10-10T14:30","jobs":0.06,"site":"Other 10"},{"date":"2022-10-10T20:00","jobs":0.06,"site":"Other 10"},{"date":"2022-10-11T06:00","jobs":0.055,"site":"Other 10"},{"date":"2022-10-11T13:00","jobs":0.05,"site":"Other 10"},{"date":"2022-10-11T14:30","jobs":0.045,"site":"Other 10"},{"date":"2022-10-12T00:00","jobs":0.035,"site":"Other 10"},
{"date":"2022-10-05T00:00","jobs":0.04,"site":"Other 11"},{"date":"2022-10-05T10:00","jobs":0.035,"site":"Other 11"},{"date":"2022-10-05T11:00","jobs":0.04,"site":"Other 11"},{"date":"2022-10-05T15:30","jobs":0.04,"site":"Other 11"},{"date":"2022-10-05T20:00","jobs":0.04,"site":"Other 11"},{"date":"2022-10-06T00:00","jobs":0.03,"site":"Other 11"},{"date":"2022-10-06T06:00","jobs":0.05,"site":"Other 11"},{"date":"2022-10-06T12:00","jobs":0.04,"site":"Other 11"},{"date":"2022-10-06T17:00","jobs":0.02,"site":"Other 11"},{"date":"2022-10-06T18:30","jobs":0.03,"site":"Other 11"},{"date":"2022-10-07T00:00","jobs":0.03,"site":"Other 11"},{"date":"2022-10-07T06:00","jobs":0.03,"site":"Other 11"},{"date":"2022-10-07T12:00","jobs":0.04,"site":"Other 11"},{"date":"2022-10-07T18:00","jobs":0.08,"site":"Other 11"},{"date":"2022-10-08T00:00","jobs":0.09,"site":"Other 11"},{"date":"2022-10-08T06:00","jobs":0.08,"site":"Other 11"},{"date":"2022-10-08T13:30","jobs":0.04,"site":"Other 11"},{"date":"2022-10-08T14:30","jobs":0.06,"site":"Other 11"},{"date":"2022-10-09T00:00","jobs":0.04,"site":"Other 11"},{"date":"2022-10-09T12:00","jobs":0.035,"site":"Other 11"},{"date":"2022-10-09T18:00","jobs":0.03,"site":"Other 11"},{"date":"2022-10-09T21:00","jobs":0.04,"site":"Other 11"},{"date":"2022-10-10T01:00","jobs":0.04,"site":"Other 11"},{"date":"2022-10-10T12:00","jobs":0.03,"site":"Other 11"},{"date":"2022-10-10T14:30","jobs":0.04,"site":"Other 11"},{"date":"2022-10-10T20:00","jobs":0.035,"site":"Other 11"},{"date":"2022-10-11T06:00","jobs":0.03,"site":"Other 11"},{"date":"2022-10-11T13:00","jobs":0.03,"site":"Other 11"},{"date":"2022-10-11T14:30","jobs":0.025,"site":"Other 11"},{"date":"2022-10-12T00:00","jobs":0.02,"site":"Other 11"},
{"date":"2022-10-05T00:00","jobs":0.02,"site":"Other 12"},{"date":"2022-10-05T10:00","jobs":0.02,"site":"Other 12"},{"date":"2022-10-05T11:00","jobs":0.02,"site":"Other 12"},{"date":"2022-10-05T15:30","jobs":0.02,"site":"Other 12"},{"date":"2022-10-05T20:00","jobs":0.02,"site":"Other 12"},{"date":"2022-10-06T00:00","jobs":0.01,"site":"Other 12"},{"date":"2022-10-06T06:00","jobs":0.03,"site":"Other 12"},{"date":"2022-10-06T12:00","jobs":0.02,"site":"Other 12"},{"date":"2022-10-06T17:00","jobs":0.01,"site":"Other 12"},{"date":"2022-10-06T18:30","jobs":0.01,"site":"Other 12"},{"date":"2022-10-07T00:00","jobs":0.01,"site":"Other 12"},{"date":"2022-10-07T06:00","jobs":0.01,"site":"Other 12"},{"date":"2022-10-07T12:00","jobs":0.02,"site":"Other 12"},{"date":"2022-10-07T18:00","jobs":0.04,"site":"Other 12"},{"date":"2022-10-08T00:00","jobs":0.05,"site":"Other 12"},{"date":"2022-10-08T06:00","jobs":0.05,"site":"Other 12"},{"date":"2022-10-08T13:30","jobs":0.02,"site":"Other 12"},{"date":"2022-10-08T14:30","jobs":0.03,"site":"Other 12"},{"date":"2022-10-09T00:00","jobs":0.02,"site":"Other 12"},{"date":"2022-10-09T12:00","jobs":0.02,"site":"Other 12"},{"date":"2022-10-09T18:00","jobs":0.015,"site":"Other 12"},{"date":"2022-10-09T21:00","jobs":0.02,"site":"Other 12"},{"date":"2022-10-10T01:00","jobs":0.02,"site":"Other 12"},{"date":"2022-10-10T12:00","jobs":0.015,"site":"Other 12"},{"date":"2022-10-10T14:30","jobs":0.02,"site":"Other 12"},{"date":"2022-10-10T20:00","jobs":0.02,"site":"Other 12"},{"date":"2022-10-11T06:00","jobs":0.015,"site":"Other 12"},{"date":"2022-10-11T13:00","jobs":0.015,"site":"Other 12"},{"date":"2022-10-11T14:30","jobs":0.01,"site":"Other 12"},{"date":"2022-10-12T00:00","jobs":0.01,"site":"Other 12"},
{"date":"2022-10-05T00:00","jobs":0.01,"site":"Other 13"},{"date":"2022-10-05T10:00","jobs":0.01,"site":"Other 13"},{"date":"2022-10-05T11:00","jobs":0.01,"site":"Other 13"},{"date":"2022-10-05T15:30","jobs":0.01,"site":"Other 13"},{"date":"2022-10-05T20:00","jobs":0.01,"site":"Other 13"},{"date":"2022-10-06T00:00","jobs":0.005,"site":"Other 13"},{"date":"2022-10-06T06:00","jobs":0.015,"site":"Other 13"},{"date":"2022-10-06T12:00","jobs":0.01,"site":"Other 13"},{"date":"2022-10-06T17:00","jobs":0.005,"site":"Other 13"},{"date":"2022-10-06T18:30","jobs":0.005,"site":"Other 13"},{"date":"2022-10-07T00:00","jobs":0.005,"site":"Other 13"},{"date":"2022-10-07T06:00","jobs":0.005,"site":"Other 13"},{"date":"2022-10-07T12:00","jobs":0.01,"site":"Other 13"},{"date":"2022-10-07T18:00","jobs":0.02,"site":"Other 13"},{"date":"2022-10-08T00:00","jobs":0.02,"site":"Other 13"},{"date":"2022-10-08T06:00","jobs":0.02,"site":"Other 13"},{"date":"2022-10-08T13:30","jobs":0.01,"site":"Other 13"},{"date":"2022-10-08T14:30","jobs":0.015,"site":"Other 13"},{"date":"2022-10-09T00:00","jobs":0.01,"site":"Other 13"},{"date":"2022-10-09T12:00","jobs":0.01,"site":"Other 13"},{"date":"2022-10-09T18:00","jobs":0.01,"site":"Other 13"},{"date":"2022-10-09T21:00","jobs":0.01,"site":"Other 13"},{"date":"2022-10-10T01:00","jobs":0.01,"site":"Other 13"},{"date":"2022-10-10T12:00","jobs":0.005,"site":"Other 13"},{"date":"2022-10-10T14:30","jobs":0.01,"site":"Other 13"},{"date":"2022-10-10T20:00","jobs":0.01,"site":"Other 13"},{"date":"2022-10-11T06:00","jobs":0.01,"site":"Other 13"},{"date":"2022-10-11T13:00","jobs":0.005,"site":"Other 13"},{"date":"2022-10-11T14:30","jobs":0.005,"site":"Other 13"},{"date":"2022-10-12T00:00","jobs":0.005,"site":"Other 13"}
]
},
"encoding": {
  "x": {"field": "date", "type": "temporal",
        "scale": {"domain": [{"year": 2022, "month": 10, "date": 5}, {"year": 2022, "month": 10, "date": 12}]},
        "axis": {"title": "Date", "format": "%Y-%m-%d", "labelAngle": -30, "labelAlign": "right", "labelBaseline": "top", "labelPadding": 0, "labelOffset": -6, "titlePadding": 4.5, "grid": true,
                 "values": [{"year": 2022, "month": 10, "date": 5}, {"year": 2022, "month": 10, "date": 6}, {"year": 2022, "month": 10, "date": 7}, {"year": 2022, "month": 10, "date": 8}, {"year": 2022, "month": 10, "date": 9}, {"year": 2022, "month": 10, "date": 10}, {"year": 2022, "month": 10, "date": 11}, {"year": 2022, "month": 10, "date": 12}]}},
  "y": {"field": "jobs", "type": "quantitative",
        "scale": {"domain": [0, 4.905], "nice": false, "zero": true},
        "axis": {"title": "Number of Waiting Jobs / 1e5", "values": [0, 1, 2, 3, 4], "labelPadding": 0, "titlePadding": 25, "grid": true}}
},
"layer": [
  {"data": {"name": "others"},
   "mark": {"type": "line", "strokeWidth": 2.5, "clip": true},
   "encoding": {"detail": {"field": "site"}, "color": {"datum": "Other sites", "type": "nominal"}}},
  {"data": {"name": "main"},
   "mark": {"type": "line", "strokeWidth": 2.5, "clip": true},
   "encoding": {"color": {"field": "site", "type": "nominal",
      "scale": {"domain": ["LCG.KEK.jp", "OSG.BNL.us", "OSG.UMiss.us", "ARC.SIGNET.si", "Other sites"], "range": ["#1f77b4", "#ff7f0e", "#2ca02c", "#d62728", "#c0c0c0"]},
      "legend": {"orient": "none", "legendX": 379, "legendY": 12, "title": null, "symbolType": "M-1,0H3", "symbolSize": 576, "symbolStrokeWidth": 2.5, "labelFontSize": 22, "labelFont": "DejaVu Sans", "labelColor": "black", "padding": 8, "rowPadding": 7, "labelOffset": 38, "strokeColor": "#cccccc", "fillColor": "white", "cornerRadius": 4}}}}
]
}
